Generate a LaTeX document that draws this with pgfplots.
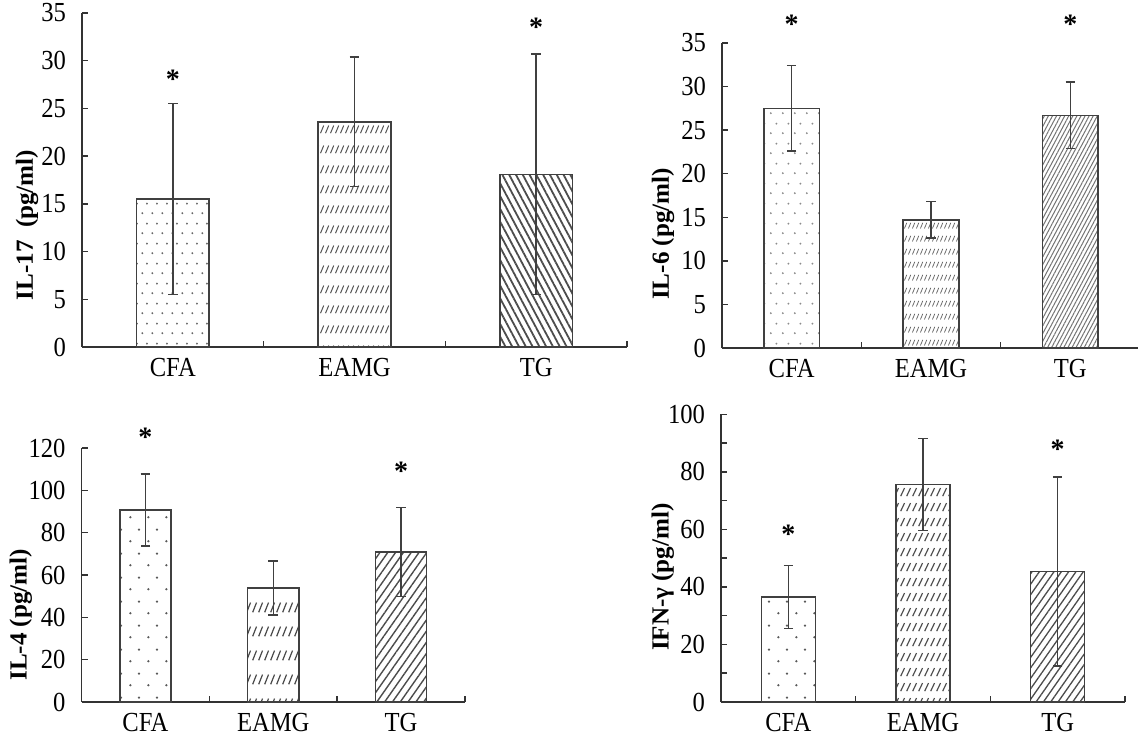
\documentclass[border=0pt]{standalone}
\usepackage{fontspec}
\setmainfont{Liberation Serif}
\usepackage{pgfplots}
\pgfplotsset{compat=1.18}
\usetikzlibrary{patterns,patterns.meta}

\pgfdeclarepatternformonly{dotsA}{\pgfqpoint{0pt}{0pt}}{\pgfqpoint{5pt}{10pt}}{\pgfqpoint{5pt}{10pt}}{%
 \pgfpathcircle{\pgfqpoint{1.25pt}{2.5pt}}{0.55pt}%
 \pgfpathcircle{\pgfqpoint{3.75pt}{7.5pt}}{0.55pt}%
 \pgfusepath{fill}}
\pgfdeclarepatternformonly{dotsB}{\pgfqpoint{0pt}{0pt}}{\pgfqpoint{6pt}{10pt}}{\pgfqpoint{6pt}{10pt}}{%
 \pgfpathcircle{\pgfqpoint{1.5pt}{2.5pt}}{0.55pt}%
 \pgfpathcircle{\pgfqpoint{4.5pt}{7.5pt}}{0.55pt}%
 \pgfusepath{fill}}
\pgfdeclarepatternformonly{dotsC}{\pgfqpoint{0pt}{0pt}}{\pgfqpoint{9pt}{12pt}}{\pgfqpoint{9pt}{12pt}}{%
 \pgfpathcircle{\pgfqpoint{2.25pt}{3pt}}{0.65pt}%
 \pgfpathcircle{\pgfqpoint{6.75pt}{9pt}}{0.65pt}%
 \pgfusepath{fill}}
\pgfdeclarepatternformonly{slashA}{\pgfqpoint{0pt}{0pt}}{\pgfqpoint{2.5pt}{10pt}}{\pgfqpoint{2.5pt}{10pt}}{%
 \pgfsetlinewidth{0.6pt}%
 \pgfpathmoveto{\pgfqpoint{0.3pt}{2.5pt}}\pgfpathlineto{\pgfqpoint{2.2pt}{6.5pt}}\pgfusepath{stroke}}
\pgfdeclarepatternformonly{slashB}{\pgfqpoint{0pt}{0pt}}{\pgfqpoint{2pt}{6.5pt}}{\pgfqpoint{2pt}{6.5pt}}{%
 \pgfsetlinewidth{0.45pt}%
 \pgfpathmoveto{\pgfqpoint{0.3pt}{1.4pt}}\pgfpathlineto{\pgfqpoint{1.7pt}{4.4pt}}\pgfusepath{stroke}}
\pgfdeclarepatternformonly{slashC}{\pgfqpoint{0pt}{0pt}}{\pgfqpoint{3pt}{12pt}}{\pgfqpoint{3pt}{12pt}}{%
 \pgfsetlinewidth{0.7pt}%
 \pgfpathmoveto{\pgfqpoint{0.4pt}{3.5pt}}\pgfpathlineto{\pgfqpoint{2.6pt}{8.5pt}}\pgfusepath{stroke}}
\pgfdeclarepatternformonly{slashD}{\pgfqpoint{0pt}{0pt}}{\pgfqpoint{3pt}{7.5pt}}{\pgfqpoint{3pt}{7.5pt}}{%
 \pgfsetlinewidth{0.65pt}%
 \pgfpathmoveto{\pgfqpoint{0.4pt}{1.5pt}}\pgfpathlineto{\pgfqpoint{2.6pt}{5.8pt}}\pgfusepath{stroke}}

\newcommand{\tfont}{\fontsize{12.3}{13}\selectfont}
\pgfplotsset{
  panel/.style={
    scale only axis, anchor=south west,
    axis x line=bottom, axis y line=left,
    axis line style={-, line width=0.75pt, draw=black!80},
    xmin=0, xmax=3, ymin=0, enlargelimits=false, clip=false,
    xtick={1,2,3}, xticklabels={,,},
    extra x ticks={0.5,1.5,2.5}, extra x tick labels={CFA,EAMG,TG},
    extra x tick style={major tick length=0pt, xticklabel style={yshift=-1.5pt}},
    tick align=inside, major tick length=3pt, minor tick length=3pt,
    tick style={line width=0.75pt, draw=black!80},
    bar width=0.4,
    tick label style={font=\tfont, yscale=1.12},
    /pgf/number format/assume math mode=true,
    yticklabel style={xshift=-4.5pt},
    ylabel style={font=\bfseries\tfont, anchor=center, xscale=1.02},
  },
  bars/.style={ybar, draw=black!75, line width=0.75pt,
      error bars/y dir=both, error bars/y explicit,
      error bars/error bar style={line width=0.75pt, draw=black!75},
      error bars/error mark options={rotate=90, line width=0.75pt, mark size=2.4pt, draw=black!75}},
  star/.style={draw=none, nodes near coords={*},
      every node near coord/.style={anchor=center, yshift=-1.7pt, font=\bfseries\fontsize{14}{14}\selectfont}},
}

\begin{document}
\begin{tikzpicture}[x=1pt,y=1pt]
\useasboundingbox (0,0) rectangle (569,369);

% IL-17
\begin{axis}[panel, at={(41pt,195.5pt)}, width=272.5pt, height=167pt,
  ymax=35, ytick={0,5,...,35}, ylabel={IL-17\ \ (pg/ml)},
  ylabel style={at={(axis description cs:-0.101,0.365)}}]
  \addplot[bars, pattern=dotsA, pattern color=black!60] coordinates {(0.5,15.5) +- (0,10.0)};
  \addplot[bars, pattern=slashA, pattern color=black!65] coordinates {(1.5,23.6) +- (0,6.8)};
  \addplot[bars, pattern={Lines[angle=-62,distance=3pt,line width=0.9pt]}, pattern color=black!70] coordinates {(2.5,18.1) +- (0,12.6)};
  \addplot[star] coordinates {(0.5,28.4) (2.5,33.9)};
\end{axis}

% IL-6
\begin{axis}[panel, at={(361pt,195pt)}, width=209pt, height=152.5pt,
  ymax=35, ytick={0,5,...,35}, ylabel={IL-6 (pg/ml)},
  ylabel style={at={(axis description cs:-0.141,0.374)}}]
  \addplot[bars, pattern=dotsB, pattern color=black!45] coordinates {(0.5,27.5) +- (0,4.9)};
  \addplot[bars, pattern=slashB, pattern color=black!60] coordinates {(1.5,14.7) +- (0,2.1)};
  \addplot[bars, pattern={Lines[angle=62,distance=1.8pt,line width=0.5pt]}, pattern color=black!55] coordinates {(2.5,26.7) +- (0,3.8)};
  \addplot[star] coordinates {(0.5,37.5) (2.5,37.5)};
\end{axis}

% IL-4
\begin{axis}[panel, at={(40.75pt,18pt)}, width=191.75pt, height=127pt,
  ymax=120, ytick={0,20,...,120}, ylabel={IL-4 (pg/ml)},
  ylabel style={at={(axis description cs:-0.158,0.343)}}]
  \addplot[bars, pattern=dotsC, pattern color=black!65] coordinates {(0.5,90.6) +- (0,17.0)};
  \addplot[bars, pattern=slashC, pattern color=black!70] coordinates {(1.5,53.9) +- (0,12.7)};
  \addplot[bars, pattern={Lines[angle=55,distance=3.2pt,line width=0.7pt]}, pattern color=black!70] coordinates {(2.5,70.9) +- (0,21.0)};
  \addplot[star] coordinates {(0.5,126.8) (2.5,110.7)};
\end{axis}

% IFN-gamma
\begin{axis}[panel, at={(360.5pt,18pt)}, width=202pt, height=143.85pt,
  ymax=100, ytick={0,20,...,100}, minor ytick={10,30,...,90}, ylabel={IFN-γ (pg/ml)},
  ylabel style={at={(axis description cs:-0.144,0.434)}}]
  \addplot[bars, pattern=dotsC, pattern color=black!65] coordinates {(0.5,36.5) +- (0,11.0)};
  \addplot[bars, pattern=slashD, pattern color=black!70] coordinates {(1.5,75.6) +- (0,16.0)};
  \addplot[bars, pattern={Lines[angle=55,distance=3pt,line width=0.65pt]}, pattern color=black!70] coordinates {(2.5,45.4) +- (0,32.8)};
  \addplot[star] coordinates {(0.5,59.6) (2.5,89.1)};
\end{axis}
\end{tikzpicture}
\end{document}
